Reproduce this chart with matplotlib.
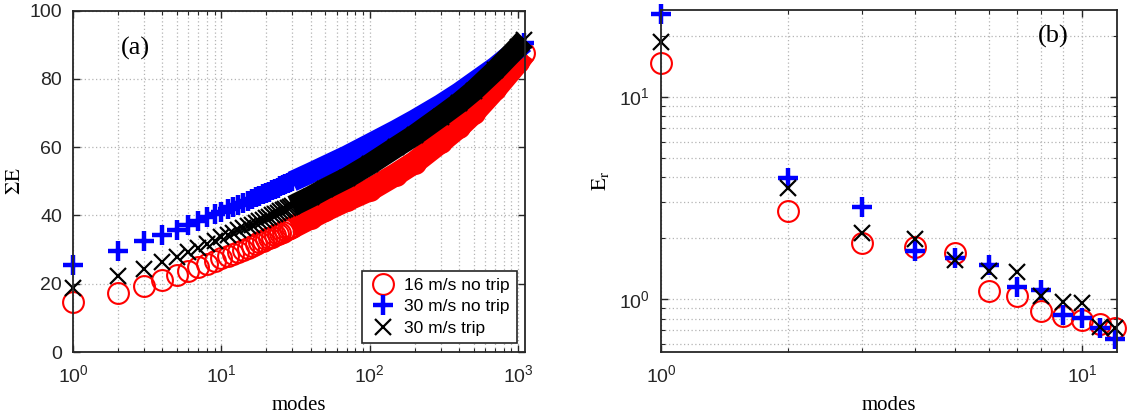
import numpy as np
import matplotlib
matplotlib.use("Agg")
import matplotlib.pyplot as plt
from matplotlib.ticker import LogLocator, NullFormatter, FixedLocator

plt.rcParams['font.family'] = ['Liberation Sans', 'DejaVu Sans']

# ---------------- data ----------------
# (a) cumulative energy per mode count
modes_cum = list(range(1, 31)) + [40, 50, 70, 100, 150, 200, 300, 400, 500, 700, 1000, 1100]

cum_16_notrip = [14.6, 17.3, 19.2, 21.0, 22.7, 23.8, 24.9, 25.8, 26.6, 27.4,
                 28.1, 28.8, 29.4, 30.0, 30.6, 31.1, 31.6, 32.1, 32.6, 33.0,
                 33.4, 33.8, 34.2, 34.6, 35.0, 35.3, 35.6, 35.9, 36.2, 36.5,
                 39.3, 41.5, 44.5, 47.5, 52.0, 55.5, 61.5, 66.0, 70.0, 77.0, 85.0, 87.5]

cum_30_notrip = [25.6, 29.6, 32.4, 34.2, 35.8, 37.2, 38.4, 39.5, 40.3, 41.1,
                 41.8, 42.5, 43.1, 43.7, 44.3, 44.8, 45.3, 45.8, 46.2, 46.6,
                 47.0, 47.4, 47.8, 48.1, 48.5, 48.8, 49.1, 49.4, 49.7, 50.0,
                 52.5, 54.5, 57.5, 61.0, 65.0, 68.0, 72.5, 76.0, 79.0, 83.5, 89.0, 90.5]

cum_30_trip = [18.7, 22.2, 24.3, 26.3, 27.9, 29.3, 30.6, 31.6, 32.6, 33.6,
               34.3, 35.0, 35.6, 36.2, 36.8, 37.3, 37.8, 38.3, 38.8, 39.2,
               39.6, 40.0, 40.4, 40.8, 41.2, 41.5, 41.8, 42.2, 42.5, 42.8,
               45.5, 47.8, 51.0, 55.0, 60.0, 63.5, 69.0, 73.0, 76.5, 82.5, 89.5, 91.5]

# (b) energy of the individual leading modes
modes_ind = list(range(1, 13))
er_16_notrip = [14.6, 2.73, 1.90, 1.80, 1.69, 1.10, 1.04, 0.876, 0.824, 0.787, 0.752, 0.716]
er_30_notrip = [25.6, 3.98, 2.84, 1.73, 1.60, 1.47, 1.15, 1.11, 0.834, 0.802, 0.716, 0.632]
er_30_trip = [18.7, 3.52, 2.11, 1.99, 1.55, 1.38, 1.36, 1.04, 0.97, 0.952, 0.724, 0.716]

labels = ['16 m/s no trip', '30 m/s no trip', '30 m/s trip']

# ---------------- styles ----------------
styles = [
    dict(marker='o', color='red', ms=15, mew=1.5, mfc='none'),
    dict(marker='+', color='blue', ms=15, mew=3.2),
    dict(marker='x', color='black', ms=11, mew=1.6),
]
band_width = [16.5, 15.0, 15.5]
band_from = 30

fig = plt.figure(figsize=(11.33, 4.15), dpi=100)
ax1 = fig.add_axes([73 / 1133, 1 - 352 / 415, 452 / 1133, 341.3 / 415])
ax2 = fig.add_axes([661 / 1133, 1 - 352 / 415, 456 / 1133, 342 / 415])

axis_col = '#262626'
grid_kw = dict(ls=(0, (1, 2)), color='#b4b4b4', lw=0.9)


def style_axes(ax):
    for s in ax.spines.values():
        s.set_linewidth(1.3)
        s.set_color(axis_col)
    ax.tick_params(which='both', direction='in', top=True, right=True,
                   color=axis_col, labelsize=14, labelcolor='#262626')
    ax.tick_params(which='major', length=5, width=1.0)
    ax.tick_params(which='minor', length=3, width=0.8)
    ax.tick_params(axis='x', which='major', pad=9)
    ax.tick_params(axis='y', which='major', pad=8)
    ax.set_axisbelow(True)


# ---- panel (a) ----
series_cum = [cum_16_notrip, cum_30_notrip, cum_30_trip]
m_arr = np.array(modes_cum)
for vals, st, bw, lab in zip(series_cum, styles, band_width, labels):
    v = np.array(vals)
    sel = m_arr >= band_from
    ax1.plot(m_arr[sel], v[sel], '-', color=st['color'], lw=bw,
             solid_capstyle='butt', solid_joinstyle='round', clip_on=False)
    ax1.plot(m_arr, v, ls='none', label=lab, clip_on=False, **st)

ax1.set_xscale('log')
ax1.set_xlim(1, 1110)
ax1.set_ylim(0, 100)
ax1.set_yticks([0, 20, 40, 60, 80, 100])
ax1.xaxis.set_major_locator(FixedLocator([1, 10, 100, 1000]))
ax1.xaxis.set_minor_locator(LogLocator(base=10, subs=np.arange(2, 10)))
ax1.xaxis.set_minor_formatter(NullFormatter())
style_axes(ax1)
ax1.grid(True, which='major', axis='both', **grid_kw)
ax1.grid(True, which='minor', axis='x', **grid_kw)
ax1.set_xlabel('modes', family='Liberation Serif', fontsize=15, labelpad=7)
ax1.set_ylabel(r'$\Sigma\mathrm{E}$', fontsize=15, math_fontfamily='stix', labelpad=4)
ax1.text(0.139, 0.889, '(a)', transform=ax1.transAxes, family='Liberation Serif',
         fontsize=19, ha='center', va='center')

leg = ax1.legend(loc='lower right', bbox_to_anchor=(0.982, 0.026), borderaxespad=0,
                 fontsize=12.5, frameon=True, fancybox=False, framealpha=1,
                 edgecolor='#262626', borderpad=0.4, handlelength=1.7,
                 handletextpad=0.35, labelspacing=0.38, markerscale=1.0)
leg.get_frame().set_linewidth(1.2)

# ---- panel (b) ----
series_ind = [er_16_notrip, er_30_notrip, er_30_trip]
for vals, st in zip(series_ind, styles):
    ax2.plot(modes_ind, vals, ls='none', clip_on=False, **st)

ax2.set_xscale('log')
ax2.set_yscale('log')
ax2.set_xlim(1, 12.1)
ax2.set_ylim(0.547, 26.8)
ax2.xaxis.set_major_locator(FixedLocator([1, 10]))
ax2.xaxis.set_minor_locator(LogLocator(base=10, subs=np.arange(2, 10)))
ax2.yaxis.set_major_locator(FixedLocator([1, 10]))
ax2.yaxis.set_minor_locator(LogLocator(base=10, subs=np.arange(2, 10)))
ax2.xaxis.set_minor_formatter(NullFormatter())
ax2.yaxis.set_minor_formatter(NullFormatter())
style_axes(ax2)
ax2.grid(True, which='both', **grid_kw)
ax2.set_xlabel('modes', family='Liberation Serif', fontsize=15, labelpad=7)
ax2.set_ylabel(r'$\mathrm{E_r}$', fontsize=15, math_fontfamily='stix', labelpad=6)
ax2.text(0.86, 0.924, '(b)', transform=ax2.transAxes, family='Liberation Serif',
         fontsize=19, ha='center', va='center')

fig.savefig('out.png', dpi=100)
